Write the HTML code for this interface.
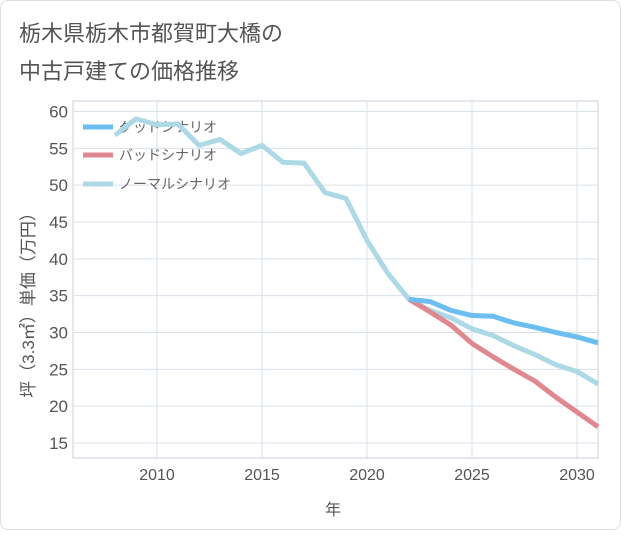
<!DOCTYPE html>
<html><head><meta charset="utf-8"><style>
body{margin:0;background:#fff;font-family:"Liberation Sans","Noto Sans CJK JP",sans-serif;}
#card{position:absolute;left:0;top:0;width:619px;height:528px;border:1px solid #ddd;border-radius:8px;background:#fff;}
</style></head><body>
<div id="card">
<svg width="621" height="530">
<text x="18" y="40" font-size="22" fill="#555">栃木県栃木市都賀町大橋の</text>
<text x="18" y="78" font-size="22" fill="#555">中古戸建ての価格推移</text>
<g id="grid"></g><g id="legend"></g><g id="lines"></g>
<text x="332" y="514" font-size="16" fill="#555" text-anchor="middle">年</text>
<text transform="translate(33,300) rotate(-90)" font-size="17" fill="#555" text-anchor="middle">坪（3.3㎡）単価（万円）</text>
</svg></div>
<script>
const years=[2008,2009,2010,2011,2012,2013,2014,2015,2016,2017,2018,2019,2020,2021,2022,2023,2024,2025,2026,2027,2028,2029,2030,2031];
const normal=[56.8,59,58.2,58.3,55.4,56.2,54.3,55.4,53.1,53,49,48.2,42.5,38,34.5,33,32,30.5,29.6,28.2,27,25.6,24.7,23];
const fYears=[2022,2023,2024,2025,2026,2027,2028,2029,2030,2031];
const good=[34.5,34.2,33,32.3,32.2,31.3,30.7,30,29.4,28.6];
const bad=[34.5,32.8,31,28.5,26.7,25,23.4,21.2,19.2,17.2];
const xTicks=[2010,2015,2020,2025,2030];
const yTicks=[15,20,25,30,35,40,45,50,55,60];
const NS="http://www.w3.org/2000/svg";
const X=v=>72+(v-2006)*21, Y=v=>110.5+(60-v)*(331.5/45);
const L=72,R=597,T=100,B=457;
function mk(t,a,p){const e=document.createElementNS(NS,t);for(const k in a)e.setAttribute(k,a[k]);p.appendChild(e);return e;}
const g=document.getElementById('grid');
const bg=mk('rect',{x:L,y:T,width:R-L,height:B-T,fill:'#fff',stroke:'#ccd',"stroke-width":1},g);


yTicks.forEach(v=>{
 const l=mk('line',{x1:L,x2:R,y1:Y(v),y2:Y(v),stroke:'#d8e0e8'},g);
 
 
 const t=mk('text',{x:L-5,y:Y(v)+6,"font-size":17,fill:'#555',"text-anchor":'end'},g);t.textContent=v;
 
 
});
xTicks.forEach(v=>{
 const l=mk('line',{x1:X(v),x2:X(v),y1:T,y2:B,stroke:'#d8e0e8'},g);
 
 
 const t=mk('text',{x:X(v),y:B+22,"font-size":16,fill:'#555',"text-anchor":'middle'},g);t.textContent=v;
 
 
});
const lg=document.getElementById('lines');
function line(xs,ys,c,n){const p=mk('polyline',{points:xs.map((x,i)=>X(x)+','+Y(ys[i])).join(' '),fill:'none',stroke:c,"stroke-width":5,"stroke-linejoin":'round'},lg);
 
 }
line(years,normal,'#add8e6','normal-scenario-line');
line(fYears,bad,'#e08890','bad-scenario-line');
line(fYears,good,'#6cbdf0','good-scenario-line');
const le=document.getElementById('legend');
[['グッドシナリオ','#6cbdf0',126],['バッドシナリオ','#e08890',154],['ノーマルシナリオ','#add8e6',183]].forEach(([s,c,y])=>{
 const l=mk('line',{x1:82,x2:112,y1:y,y2:y,stroke:c,"stroke-width":5},le);
 
 
 const t=mk('text',{x:118,y:y+5,"font-size":14,fill:'#666'},le);t.textContent=s;
 
 
});
</script></body></html>
